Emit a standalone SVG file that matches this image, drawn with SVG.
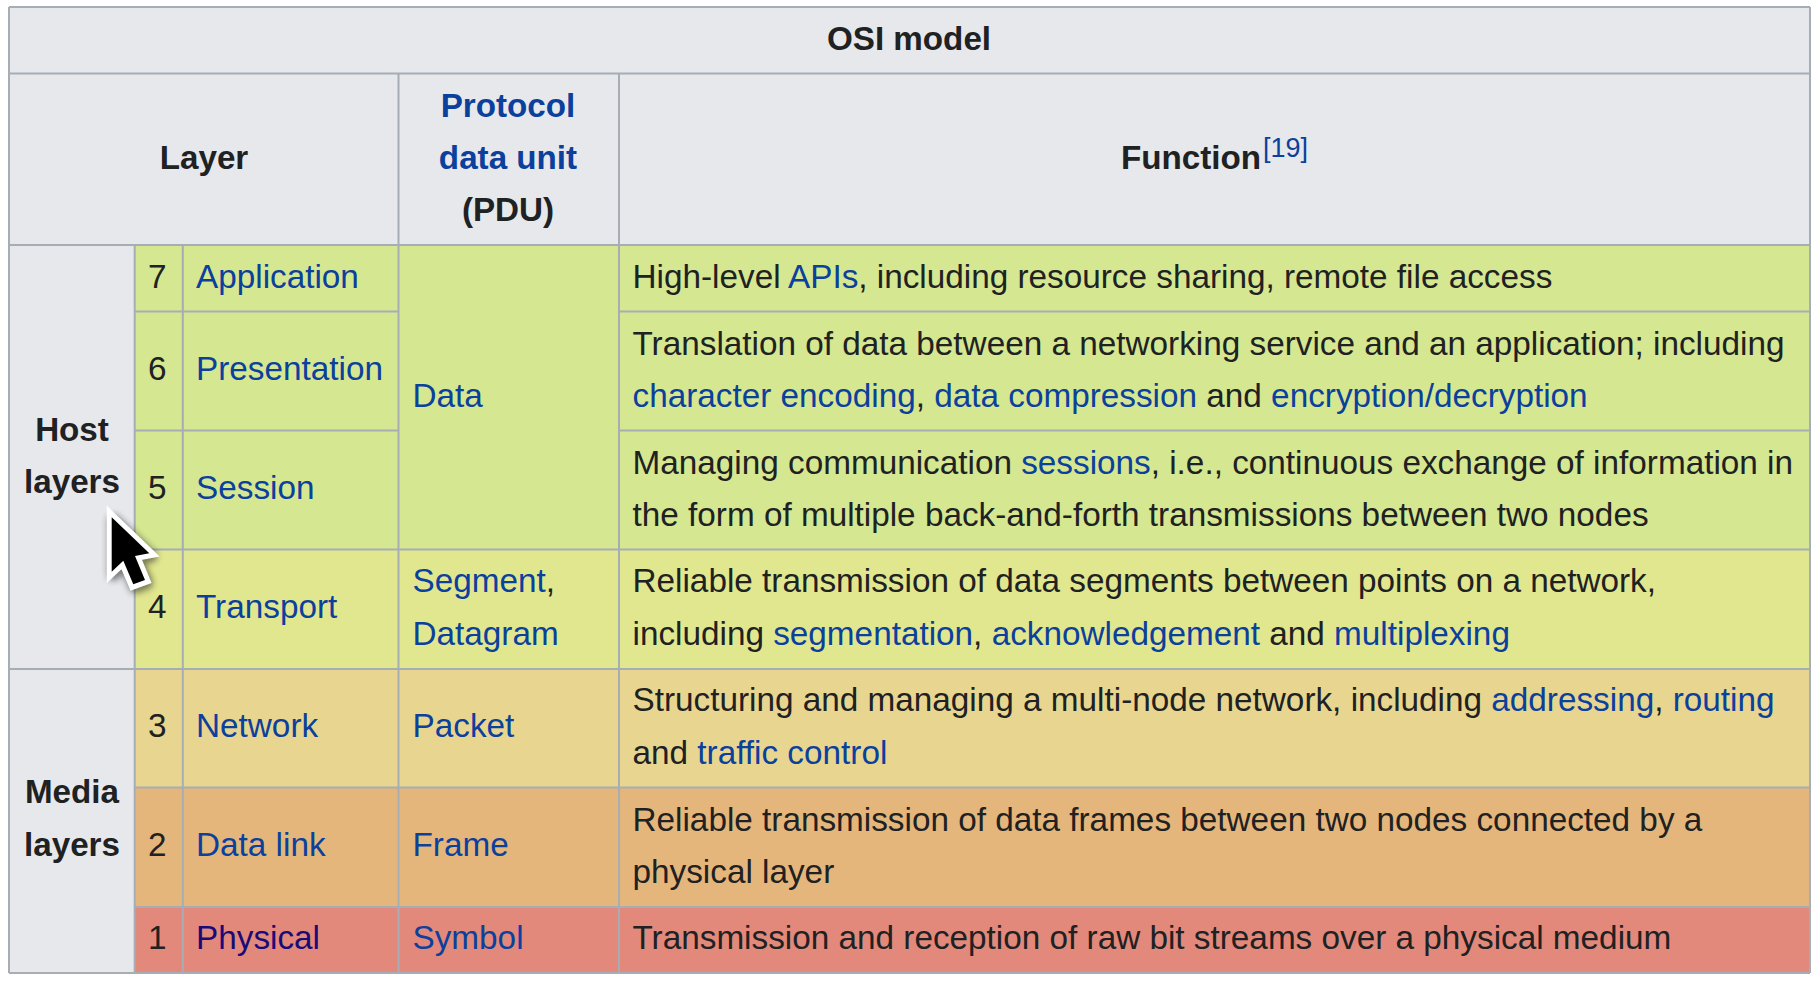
<svg xmlns="http://www.w3.org/2000/svg" width="1818" height="986" viewBox="0 0 1818 986">
<style>
text{font-family:"Liberation Sans",Arial,Helvetica,sans-serif;font-size:33.3px;fill:#202122}
.b{font-weight:bold;font-size:33.2px}.m{text-anchor:middle}
.l,.l tspan,tspan.l{fill:#0b409c}
.v{fill:#1a0a78}
.g{fill:#e6e8ec}.r1{fill:#d5e790}.r4{fill:#e1e78f}.r3{fill:#e8d690}.r2{fill:#e5b67b}.r0{fill:#e3897b}
.gl line{stroke:#a6adb5;stroke-width:2}
</style>
<defs><filter id="sh" x="-40%" y="-40%" width="180%" height="180%"><feGaussianBlur stdDeviation="3"/></filter></defs>
<rect width="1818" height="986" fill="#fff"/>
<g id="fills">
<rect class="g" x="9" y="7" width="1801" height="966"/>
<rect class="r1" x="134.7" y="245" width="1675.3" height="304.500"/>
<rect class="r4" x="134.7" y="549.500" width="1675.3" height="119.500"/>
<rect class="r3" x="134.7" y="669" width="1675.3" height="118.500"/>
<rect class="r2" x="134.7" y="787.500" width="1675.3" height="119.500"/>
<rect class="r0" x="134.7" y="907" width="1675.3" height="66"/>
</g>
<g id="grid" class="gl">
<line x1="9" y1="7" x2="1810" y2="7"/><line x1="9" y1="73.500" x2="1810" y2="73.500"/>
<line x1="9" y1="245" x2="1810" y2="245"/>
<line x1="134.700" y1="311.500" x2="398.500" y2="311.500"/><line x1="619" y1="311.500" x2="1810" y2="311.500"/>
<line x1="134.700" y1="430.500" x2="398.500" y2="430.500"/><line x1="619" y1="430.500" x2="1810" y2="430.500"/>
<line x1="134.700" y1="549.500" x2="1810" y2="549.500"/>
<line x1="9" y1="669" x2="1810" y2="669"/>
<line x1="134.700" y1="787.500" x2="1810" y2="787.500"/>
<line x1="134.700" y1="907" x2="1810" y2="907"/>
<line x1="9" y1="973" x2="1810" y2="973"/>
<line x1="9" y1="7" x2="9" y2="973"/><line x1="1810" y1="7" x2="1810" y2="973"/>
<line x1="134.700" y1="245" x2="134.700" y2="973"/><line x1="182.800" y1="245" x2="182.800" y2="973"/>
<line x1="398.500" y1="73.500" x2="398.500" y2="973"/><line x1="619" y1="73.500" x2="619" y2="973"/>
</g>
<g id="title"><text class="b m" x="909" y="50">OSI model</text></g>
<g id="header">
<text class="b m" x="204" y="169">Layer</text>
<text class="b m l" x="508" y="117">Protocol</text>
<text class="b m l" x="508" y="169">data unit</text>
<text class="b m" x="508" y="221">(PDU)</text>
<text class="b" x="1121" y="169">Function</text>
<text class="l" x="1263" y="156.500" style="font-size:27px">[19]</text>
</g>
<g id="groups">
<text class="b m" x="72" y="441">Host</text><text class="b m" x="72" y="493">layers</text>
<text class="b m" x="72" y="803">Media</text><text class="b m" x="72" y="856">layers</text>
</g>
<g id="layer7"><text x="148" y="288">7</text><text class="l" x="196" y="288">Application</text>
<text x="632.500" y="288">High-level <tspan class="l">APIs</tspan>, including resource sharing, remote file access</text></g>
<g id="data"><text class="l" x="412.500" y="407">Data</text></g>
<g id="layer6"><text x="148" y="380">6</text><text class="l" x="196" y="380">Presentation</text>
<text x="632.500" y="355">Translation of data between a networking service and an application; including</text>
<text x="632.500" y="407"><tspan class="l">character encoding</tspan>, <tspan class="l">data compression</tspan> and <tspan class="l">encryption/decryption</tspan></text></g>
<g id="layer5"><text x="148" y="499">5</text><text class="l" x="196" y="499">Session</text>
<text x="632.500" y="474">Managing communication <tspan class="l">sessions</tspan>, i.e., continuous exchange of information in</text>
<text x="632.500" y="526">the form of multiple back-and-forth transmissions between two nodes</text></g>
<g id="layer4"><text x="148" y="618">4</text><text class="l" x="196" y="618">Transport</text>
<text class="l" x="412.500" y="592">Segment<tspan style="fill:#202122">,</tspan></text><text class="l" x="412.500" y="645">Datagram</text>
<text x="632.500" y="592">Reliable transmission of data segments between points on a network,</text>
<text x="632.500" y="645">including <tspan class="l">segmentation</tspan>, <tspan class="l">acknowledgement</tspan> and <tspan class="l">multiplexing</tspan></text></g>
<g id="layer3"><text x="148" y="737">3</text><text class="l" x="196" y="737">Network</text><text class="l" x="412.500" y="737">Packet</text>
<text x="632.500" y="711">Structuring and managing a multi-node network, including <tspan class="l">addressing</tspan>, <tspan class="l">routing</tspan></text>
<text x="632.500" y="764">and <tspan class="l">traffic control</tspan></text></g>
<g id="layer2"><text x="148" y="856">2</text><text class="l" x="196" y="856">Data link</text><text class="l" x="412.500" y="856">Frame</text>
<text x="632.500" y="831">Reliable transmission of data frames between two nodes connected by a</text>
<text x="632.500" y="883">physical layer</text></g>
<g id="layer1"><text x="148" y="949">1</text><text class="v" x="196" y="949">Physical</text><text class="l" x="412.500" y="949">Symbol</text>
<text x="632.500" y="949">Transmission and reception of raw bit streams over a physical medium</text></g>
<g id="cursor">
<path d="M111.700 517.300L149.300 553.300 135 556 145 580 133.300 584.300 123.300 560.700 111.700 571.700Z" fill="#222" opacity=".55" stroke="#222" stroke-width="12" stroke-linejoin="round" filter="url(#sh)" transform="translate(2 3)"/>
<path d="M111.700 517.300L149.300 553.300 135 556 145 580 133.300 584.300 123.300 560.700 111.700 571.700Z" fill="#000" stroke="#fff" stroke-width="10" stroke-linejoin="miter" paint-order="stroke"/>
</g>
</svg>
